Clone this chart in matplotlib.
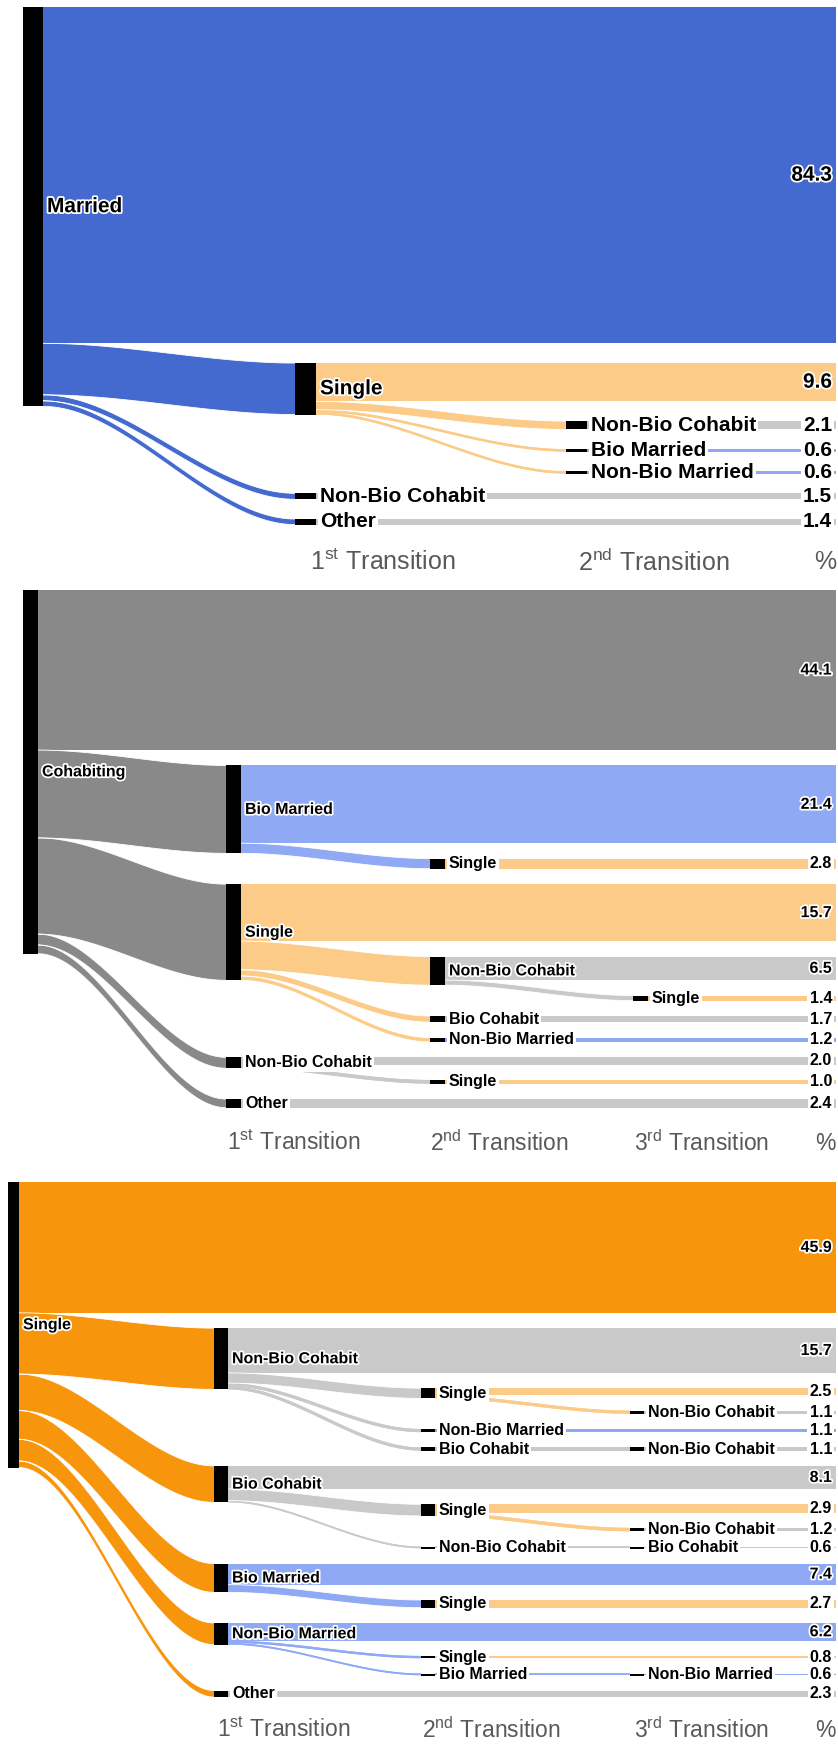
import numpy as np
import matplotlib
matplotlib.use("Agg")
import matplotlib.pyplot as plt
import matplotlib.patheffects as pe
from matplotlib.patches import Rectangle

plt.rcParams['font.family'] = ['Liberation Sans', 'DejaVu Sans']
plt.rcParams['mathtext.fontset'] = 'custom'
plt.rcParams['mathtext.rm'] = 'Liberation Sans'

# ---- data: rows in drawing order, parent = index of the state it came from ----
married_labels = ['Married', 'Single', 'Non-Bio Cohabit', 'Bio Married', 'Non-Bio Married',
                  'Non-Bio Cohabit', 'Other']
married_stay = [84.3, 9.6, 2.1, 0.6, 0.6, 1.5, 1.4]
married_parent = [-1, 0, 1, 1, 1, 0, 0]

cohab_labels = ['Cohabiting', 'Bio Married', 'Single', 'Single', 'Non-Bio Cohabit', 'Single',
                'Bio Cohabit', 'Non-Bio Married', 'Non-Bio Cohabit', 'Single', 'Other']
cohab_stay = [44.1, 21.4, 2.8, 15.7, 6.5, 1.4, 1.7, 1.2, 2.0, 1.0, 2.4]
cohab_parent = [-1, 0, 1, 0, 3, 4, 3, 3, 0, 8, 0]

single_labels = ['Single', 'Non-Bio Cohabit', 'Single', 'Non-Bio Cohabit', 'Non-Bio Married',
                 'Bio Cohabit', 'Non-Bio Cohabit', 'Bio Cohabit', 'Single', 'Non-Bio Cohabit',
                 'Non-Bio Cohabit', 'Bio Cohabit', 'Bio Married', 'Single', 'Non-Bio Married',
                 'Single', 'Bio Married', 'Non-Bio Married', 'Other']
single_stay = [45.9, 15.7, 2.5, 1.1, 1.1, 0, 1.1, 8.1, 2.9, 1.2, 0, 0.6, 7.4, 2.7, 6.2,
               0.8, 0, 0.6, 2.3]
single_parent = [-1, 0, 1, 2, 1, 1, 5, 0, 7, 8, 7, 10, 0, 12, 0, 14, 14, 16, 0]

axis_two = ['1st', '2nd']
axis_three = ['1st', '2nd', '3rd']

# ---- colours ----
root_col = {'married': '#456ACF', 'cohab': '#898989', 'single': '#F7960C'}
light_col = {'married': '#8FA9F5', 'cohab': '#C9C9C9', 'single': '#FCCB87'}


def category(lab):
    if 'Married' in lab:
        return 'married'
    if lab == 'Single':
        return 'single'
    return 'cohab'


W, H = 838, 1744
fig = plt.figure(figsize=(W / 100, H / 100), dpi=100)
ax = fig.add_axes([0, 0, 1, 1])
ax.set_xlim(0, W)
ax.set_ylim(H, 0)
ax.axis('off')

RIGHT = 836
halo = [pe.withStroke(linewidth=2.5, foreground='white')]


def draw_panel(labels, stay, parent, top, k, gap, cols, root_w, node_w, fs,
               ordinals, axis_x, axis_y, axis_fs):
    n = len(labels)
    children = [[] for _ in range(n)]
    depth = [0] * n
    for i, p in enumerate(parent):
        if p >= 0:
            children[p].append(i)
            depth[i] = depth[p] + 1
    total = list(stay)
    for i in reversed(range(n)):
        if parent[i] >= 0:
            total[parent[i]] += total[i]

    # rows
    ytop = [None] * n
    cur = top
    for i in range(n):
        if stay[i] > 0:
            ytop[i] = cur
            cur += stay[i] * k + gap
    for i in reversed(range(n)):
        if ytop[i] is None:
            ytop[i] = ytop[children[i][0]]

    xl = [cols[d] for d in depth]
    wd = [root_w if d == 0 else node_w for d in depth]
    col = [root_col[category(l)] if d == 0 else light_col[category(l)]
           for l, d in zip(labels, depth)]

    # stay bands
    for i in range(n):
        if stay[i] > 0:
            ax.add_patch(Rectangle((xl[i] + wd[i], ytop[i]), RIGHT - xl[i] - wd[i],
                                   stay[i] * k, facecolor=col[i], edgecolor='none', zorder=1))

    # flows
    t = np.linspace(0, 1, 80)
    s = t * t * (3 - 2 * t)
    for p in range(n):
        off = ytop[p] + stay[p] * k
        x0 = xl[p] + wd[p]
        for c in children[p]:
            h = total[c] * k
            x1 = xl[c]
            xs = x0 + (x1 - x0) * t
            ya = off + (ytop[c] - off) * s
            ax.fill_between(xs, ya, ya + h, facecolor=col[p], edgecolor='none',
                            linewidth=0, zorder=2)
            if h >= 4:
                ax.plot(xs, ya, color='white', lw=0.6, zorder=2.5)
                ax.plot(xs, ya + h, color='white', lw=0.6, zorder=2.5)
            else:
                ax.plot(xs, ya + h / 2, color=col[p], lw=max(h, 1.2) * 0.72,
                        solid_capstyle='butt', zorder=2)
            off += h

    # nodes and labels
    for i in range(n):
        h = max(total[i] * k, 2)
        ax.add_patch(Rectangle((xl[i], ytop[i]), wd[i], h, facecolor='black',
                               edgecolor='none', zorder=3))
        yc = ytop[i] + total[i] * k / 2
        kw = dict(fontsize=fs, fontweight='bold', ha='left', va='center', zorder=4)
        if total[i] * k >= 14:
            ax.text(xl[i] + wd[i] + 4, yc, labels[i], path_effects=halo, **kw)
        else:
            ax.text(xl[i] + wd[i] + 4, yc, labels[i],
                    bbox=dict(facecolor='white', edgecolor='none', pad=1.5), **kw)
        if stay[i] > 0:
            yv = ytop[i] + stay[i] * k / 2
            kw = dict(fontsize=fs, fontweight='bold', ha='right', va='center', zorder=4)
            if stay[i] * k >= 14:
                ax.text(RIGHT - 4, yv, f"{stay[i]:.1f}", path_effects=halo, **kw)
            else:
                ax.text(RIGHT - 4, yv, f"{stay[i]:.1f}",
                        bbox=dict(facecolor='white', edgecolor='none', pad=1.5), **kw)

    # column titles
    for o, x in zip(ordinals, axis_x):
        ax.text(x, axis_y, o[0] + r"$^{\mathregular{" + o[1:] + "}}$ Transition",
                fontsize=axis_fs, color='#595959', ha='left', va='center')
    ax.text(RIGHT, axis_y, '%', fontsize=axis_fs, color='#595959', ha='right', va='center')


draw_panel(married_labels, married_stay, married_parent, top=7, k=3.99, gap=19.7,
           cols=[23, 295, 566], root_w=20, node_w=21, fs=15,
           ordinals=axis_two, axis_x=[310, 578], axis_y=562, axis_fs=18)
draw_panel(cohab_labels, cohab_stay, cohab_parent, top=590, k=3.63, gap=15.4,
           cols=[23, 226, 430, 633], root_w=15, node_w=15, fs=11.5,
           ordinals=axis_three, axis_x=[227, 430, 634], axis_y=1143, axis_fs=16.5)
draw_panel(single_labels, single_stay, single_parent, top=1182, k=2.85, gap=15.3,
           cols=[8, 214, 421, 630], root_w=11, node_w=14, fs=11.5,
           ordinals=axis_three, axis_x=[217, 422, 634], axis_y=1730, axis_fs=16.5)

fig.savefig('out.png', dpi=100, facecolor='white')
